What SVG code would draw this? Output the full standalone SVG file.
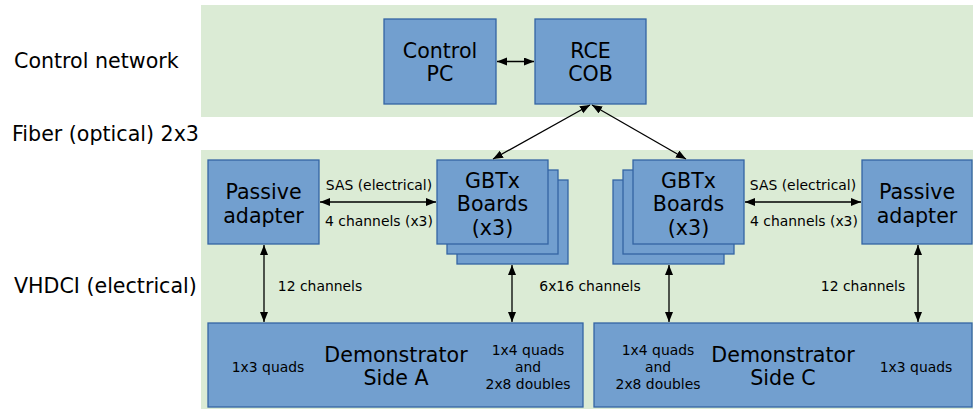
<svg xmlns="http://www.w3.org/2000/svg" width="973" height="409" viewBox="0 0 973 409">
<defs>
<style>
.band{fill:#dbebd5;stroke:none}
.node{fill:#729fcf;stroke:#3465a4;stroke-width:1.3}
.big{font-family:"DejaVu Sans",sans-serif;font-size:20.6px;fill:#000;text-anchor:middle}
.lab{font-family:"DejaVu Sans",sans-serif;font-size:20.6px;fill:#000}
.sm{font-family:"DejaVu Sans",sans-serif;font-size:13.9px;fill:#000;text-anchor:middle}
.conn{stroke:#000;stroke-width:1.3;fill:none;marker-start:url(#ah);marker-end:url(#ah)}
</style>
<marker id="ah" markerUnits="userSpaceOnUse" markerWidth="11" markerHeight="9" refX="10" refY="4" orient="auto-start-reverse" viewBox="0 0 11 9">
<path d="M0,0 L10,4 L0,8 z" fill="#000"/>
</marker>
</defs>
<rect width="973" height="409" fill="#fff"/>
<rect class="band" x="201" y="5" width="772" height="112"/>
<rect class="band" x="201" y="150" width="772" height="259"/>
<text class="lab" x="14" y="67.5">Control network</text>
<text class="lab" x="12" y="141">Fiber (optical) 2x3</text>
<text class="lab" x="14" y="293">VHDCI (electrical)</text>
<g id="control-pc">
<rect class="node" x="384" y="19" width="112" height="85"/>
<text class="big" x="440" y="57.5">Control</text>
<text class="big" x="440" y="81">PC</text>
</g>
<g id="rce-cob">
<rect class="node" x="535" y="19" width="111" height="85"/>
<text class="big" x="590.5" y="57.5">RCE</text>
<text class="big" x="590.5" y="81">COB</text>
</g>
<g id="passive-left">
<rect class="node" x="208" y="160" width="111" height="84"/>
<text class="big" x="263.5" y="199">Passive</text>
<text class="big" x="263.5" y="222.5">adapter</text>
</g>
<g id="gbtx-left">
<rect class="node" x="457" y="180" width="111" height="84"/>
<rect class="node" x="447" y="170" width="111" height="84"/>
<rect class="node" x="437" y="160" width="111" height="84"/>
<text class="big" x="492.5" y="187.5">GBTx</text>
<text class="big" x="492.5" y="211">Boards</text>
<text class="big" x="492.5" y="234.5">(x3)</text>
</g>
<g id="gbtx-right">
<rect class="node" x="613" y="180" width="111" height="84"/>
<rect class="node" x="623" y="170" width="111" height="84"/>
<rect class="node" x="633" y="160" width="111" height="84"/>
<text class="big" x="688.5" y="187.5">GBTx</text>
<text class="big" x="688.5" y="211">Boards</text>
<text class="big" x="688.5" y="234.5">(x3)</text>
</g>
<g id="passive-right">
<rect class="node" x="862" y="160" width="110" height="84"/>
<text class="big" x="917" y="199">Passive</text>
<text class="big" x="917" y="222.5">adapter</text>
</g>
<g id="demo-a">
<rect class="node" x="208" y="323" width="375" height="84"/>
<text class="big" x="396" y="361.5">Demonstrator</text>
<text class="big" x="396" y="385">Side A</text>
<text class="sm" x="268" y="372">1x3 quads</text>
<text class="sm" x="528" y="355">1x4 quads</text>
<text class="sm" x="528" y="372">and</text>
<text class="sm" x="528" y="389">2x8 doubles</text>
</g>
<g id="demo-c">
<rect class="node" x="594" y="323" width="378" height="84"/>
<text class="big" x="783" y="361.5">Demonstrator</text>
<text class="big" x="783" y="385">Side C</text>
<text class="sm" x="916" y="372">1x3 quads</text>
<text class="sm" x="658" y="355">1x4 quads</text>
<text class="sm" x="658" y="372">and</text>
<text class="sm" x="658" y="389">2x8 doubles</text>
</g>
<g id="connectors">
<line class="conn" x1="497" y1="61.5" x2="534" y2="61.5"/>
<line class="conn" x1="590" y1="105" x2="493" y2="159"/>
<line class="conn" x1="592" y1="105" x2="686" y2="159"/>
<line class="conn" x1="320" y1="202" x2="436" y2="202"/>
<line class="conn" x1="745" y1="202" x2="861" y2="202"/>
<line class="conn" x1="264" y1="245" x2="264" y2="322"/>
<line class="conn" x1="512" y1="265" x2="512" y2="322"/>
<line class="conn" x1="669" y1="265" x2="669" y2="322"/>
<line class="conn" x1="918" y1="245" x2="918" y2="322"/>
<text class="sm" x="379" y="190">SAS (electrical)</text>
<text class="sm" x="379" y="226">4 channels (x3)</text>
<text class="sm" x="803" y="190">SAS (electrical)</text>
<text class="sm" x="804" y="226">4 channels (x3)</text>
<text class="sm" x="320" y="291">12 channels</text>
<text class="sm" x="590" y="291">6x16 channels</text>
<text class="sm" x="863" y="291">12 channels</text>
</g>
</svg>
